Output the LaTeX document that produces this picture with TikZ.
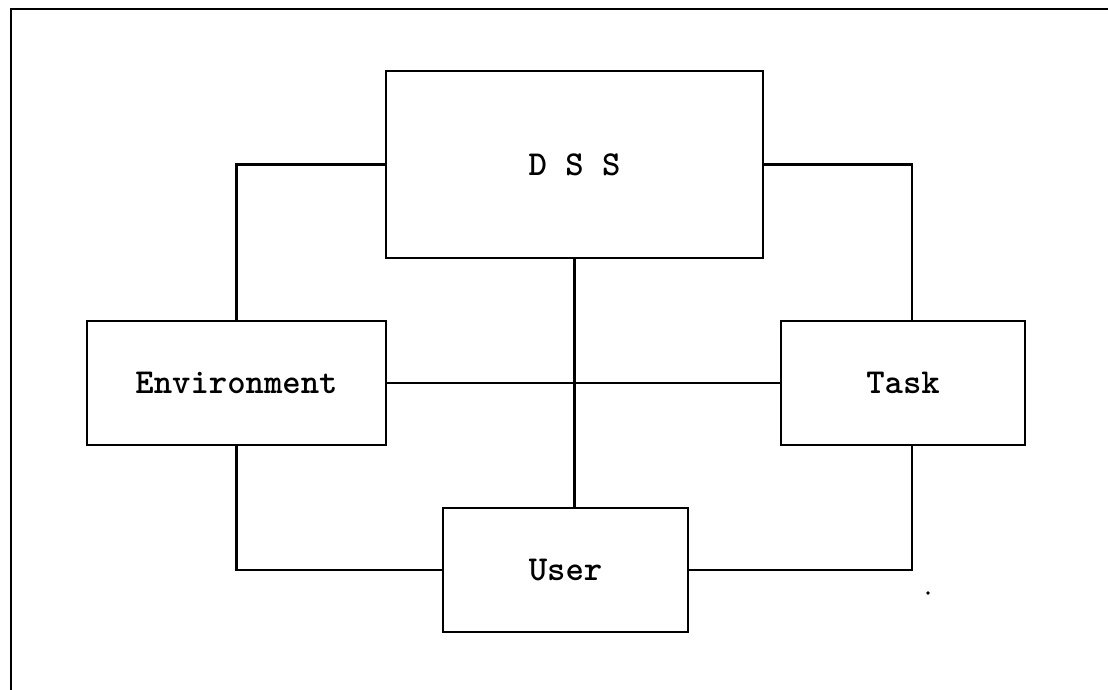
\documentclass[tikz,border=0pt]{standalone}
\usepackage{fontspec}
\begin{document}
\begin{tikzpicture}[x=0.5pt,y=-0.5pt,
  line width=1.3pt,
  box/.style={draw, inner sep=0pt, minimum height=62pt, font=\ttfamily\bfseries\fontsize{17.5}{20}\selectfont},
  link/.style={draw, line cap=rect}]
  \useasboundingbox (0,0) rectangle (1108,690);
  % page frame
  \draw (11,690) -- (11,9) -- (1108,9);
  % components
  \node[box, minimum width=188.5pt, minimum height=93.5pt] (dss) at (574.5,164.5) {D S S};
  \node[box, minimum width=149.5pt] (env) at (236.5,383) {Environment};
  \node[box, minimum width=122pt] (task) at (903,383) {Task};
  \node[box, minimum width=122.5pt] (user) at (565.5,570) {User};
  \coordinate (tr) at (912,164.5);
  % connections
  \draw (dss.west) -| (env.north);
  \draw (dss.east) -- (tr) -- (tr |- task.north);
  \draw (env.east) -- (task.west);
  \draw (dss.south) -- (dss.south |- user.north);
  \draw (env.south) |- (user.west);
  \draw (tr |- task.south) |- (user.east);
  % stray mark
  \fill (928,593) circle (0.9pt);
\end{tikzpicture}
\end{document}
